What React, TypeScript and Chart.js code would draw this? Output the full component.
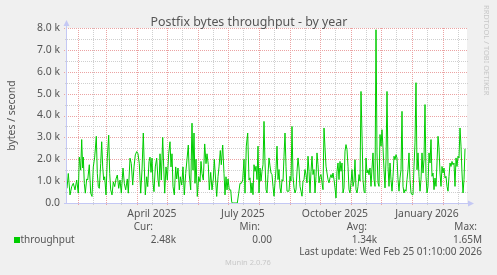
import React, { useEffect, useRef } from "react";
import { Chart, registerables } from "chart.js";

Chart.register(...registerables);

// ---- DATA ----
// Time axis: day offsets from the graph start (400-day window ending Wed Feb 25 01:10:00 2026)
const GRAPH_START_UTC = Date.UTC(2025, 0, 21, 1, 10);
const GRAPH_DAYS = 400;

// Throughput (k bytes / second), first half-year readings (irregular day offsets)
const daysPart1 = [0,1.3,3,4.7,6.3,8,9.7,11.3,12.3,13.7,14.7,15.7,16.3,17.3,18.3,19.7,20.7,22.3,23.7,25,26.3,27.7,29.3,30.3,31.3,32.3,33.7,34.7,35.7,36.7,37.7,39,40.3,41.7,42.7,43.7,45,46.3,47.7,49,50.3,51.7,53,54.3,56,57.3,58.7,60.3,61.3,63,64.3,65.7,67,68.3,69.7,71,72.3,73.7,75,76.3,77.3,78.3,79.7,80.7,82,83,84,85,86,87,88.3,89.7,91,92,93,94.3,95.7,96.7,97.7,99,100.3,101.7,103,104,105,106,107.3,108.7,109.7,111,112.3,113.3,114.7,116,117.3,118.7,120,121.3,122.3,123.7,125,126,127,128,129,130.3,131.7,133,134,135,136.3,137.7,139,140,141.3,142.3,143.7,145,146.3,147.3,148.3,149.7,151,152,153.3,154.3,155.7,157,158,159,160,161,162.3,163.7,164.7,165.3,170.3,171.7,173,174.3,175.7,177,178,179.3,180.7,182];
const valuesPart1 = [0.67,1.35,0.37,0.75,0.9,0.6,1.05,0.45,2.1,1.5,2.9,1.6,2.1,0.9,0.45,1.1,1.05,1.75,0.45,0.3,1.65,2.1,3.05,1.35,0.75,0.67,1.8,2.8,1.65,1.05,1.2,0.37,2.05,3.1,1.35,0.6,0.37,0.97,0.75,1.1,1.28,0.67,1.05,0.45,1.6,0.9,0.6,1.1,0.45,2.05,1.8,0.82,1.65,2.2,2.35,2.25,1.8,0.45,1.5,3.2,1.65,0.37,1.2,0.75,1.9,2.1,1.4,2.05,0.9,0.52,1.65,2.05,1.05,0.75,2.25,1.05,3.0,1.65,0.45,1.65,1.05,2.25,2.8,1.65,2.25,0.75,0.37,1.65,1.1,1.6,0.6,1.2,0.82,1.65,0.37,1.35,2.0,2.65,1.28,0.6,3.65,1.5,3.2,0.9,2.0,0.3,1.2,0.97,1.9,1.35,1.05,2.7,1.8,2.25,1.75,0.6,1.4,0.6,1.1,2.0,1.28,0.3,1.2,1.65,2.4,1.75,2.65,1.35,0.37,1.2,0.6,1.1,0.6,0.6,0.05,0,0,0.45,0.9,0.9,1.05,2.0,0.45,2.6,3.2,1.05];

// Daily readings from day 183 on
const part2StartDay = 183;
const valuesPart2 = [1.15,0.46,0.92,0.38,1.75,1.45,1.68,1.07,2.6,0.46,1.6,1.0,1.45,1.75,3.73,1.83,0.61,0.46,1.3,2.06,1.7,1.37,1.3,0.76,0.31,0.92,1.53,2.6,1.07,1.53,0.69,0.46,1.07,1.0,2.14,3.2,1.68,0.54,0.54,0.54,1.22,1.0,3.5,1.22,0.7,0.46,0.61,1.45,2.06,1.6,0.76,0.54,0.31,1.0,1.07,1.53,1.3,0.92,2.14,1.45,0.46,1.45,2.14,1.3,1.53,0.46,1.22,2.29,1.75,0.92,1.22,1.3,0.92,0.61,3.43,2.52,1.68,1.37,1.07,0.92,1.15,1.3,1.15,1.37,1.07,0.69,0.23,1.45,1.83,1.07,1.9,1.45,1.83,0.46,0.69,2.37,2.67,2.44,1.68,0.61,0.46,0.92,1.53,0.76,1.0,1.98,0.61,0.46,0.76,1.3,1.0,5.1];

const part3StartDay = 296;
const valuesPart3 = [1.07,0.54,0.46,2.06,1.37,1.52,1.29,1.6,0.76,1.6,2.29,1.07,0.76,7.92,2.29,0.92,0.76,3.13,2.6,3.35,2.52,1.52,0.69,1.98,5.1,1.67,0.76,1.83,1.07,0.54,1.22,2.14,1.98,2.21,2.06,1.07,0.54,1.14,1.52,4.19,0.76,0.46,0.61,0.54,1.07,1.52,2.29,1.07,0.46,0.38,0.38,1.67,2.75,5.5,1.52,2.29,1.22,0.54,1.07,2.29,1.37,1.98,4.5,1.22,0.46,0.76,2.29,1.83,2.9,1.22,1.37,0.61,1.14,0.76,1.83,3.05,2.52,1.37,0.76,1.67,1.37,1.6,1.14,1.22,0.76,0.54,1.22,1.83,1.67,1.9,1.75,1.83,0.76,2.06,1.67,2.14,2.06,3.43,2.6,1.37,0.46,1.07,2.48];

// Axis ticks / labels
const yTickValues = [0, 1, 2, 3, 4, 5, 6, 7, 8];
const yTickLabels = ["0.0", "1.0 k", "2.0 k", "3.0 k", "4.0 k", "5.0 k", "6.0 k", "7.0 k", "8.0 k"];
const xLabelMonths = [[2025, 3], [2025, 6], [2025, 9], [2026, 0]];
const xLabelTexts = ["April 2025", "July 2025", "October 2025", "January 2026"];

// Texts
const titleText = "Postfix bytes throughput - by year";
const yAxisTitle = "bytes / second";
const seriesName = "throughput";
const legendHeaders = ["Cur:", "Min:", "Avg:", "Max:"];
const legendValues = ["2.48k", "0.00", "1.34k", "1.65M"];
const lastUpdateText = "Last update: Wed Feb 25 01:10:00 2026";
const watermarkText = "RRDTOOL / TOBI OETIKER";
const footerText = "Munin 2.0.76";

// ---- helpers ----
const dayOf = (y: number, m: number, d: number) => (Date.UTC(y, m, d) - GRAPH_START_UTC) / 86400000;

function buildPoints() {
  const pts: { x: number; y: number }[] = [];
  daysPart1.forEach((d, i) => pts.push({ x: d, y: valuesPart1[i] }));
  valuesPart2.forEach((v, i) => pts.push({ x: part2StartDay + i, y: v }));
  valuesPart3.forEach((v, i) => pts.push({ x: part3StartDay + i, y: v }));
  return pts;
}

function monthStarts() {
  const out: number[] = [];
  const mids: number[] = [];
  for (let k = 0; k < 15; k++) {
    const y = 2025 + Math.floor(k / 12);
    const m = k % 12;
    const s = dayOf(y, m, 1);
    const mid = dayOf(y, m, 16);
    if (s > 0 && s < GRAPH_DAYS) out.push(s);
    if (mid > 0 && mid < GRAPH_DAYS) mids.push(mid);
  }
  return { starts: out, mids };
}

const FONT = '"Noto Sans", "Open Sans", sans-serif';
const TEXT = "#555555";
const AXIS = "#c4c8f4";

const muninPlugin = {
  id: "munin",
  beforeDraw(chart: any) {
    const { ctx, chartArea: a, scales } = chart;
    const x = scales.x, y = scales.y;
    ctx.save();
    ctx.fillStyle = "#f0f0f0";
    ctx.fillRect(0, 0, chart.width, chart.height);
    ctx.fillStyle = "#ffffff";
    ctx.fillRect(a.left, a.top, a.right - a.left, a.bottom - a.top);

    ctx.lineWidth = 1;
    ctx.setLineDash([1, 1]);
    // horizontal minor
    for (let v = 0.5; v < 8; v += 1) {
      const py = Math.round(y.getPixelForValue(v)) + 0.5;
      ctx.strokeStyle = "#cfcfcf";
      ctx.beginPath(); ctx.moveTo(a.left - 2, py); ctx.lineTo(a.right + 1, py); ctx.stroke();
    }
    const { starts, mids } = monthStarts();
    for (const d of mids) {
      const px = Math.round(x.getPixelForValue(d)) + 0.5;
      ctx.strokeStyle = "#cfcfcf";
      ctx.beginPath(); ctx.moveTo(px, a.top); ctx.lineTo(px, a.bottom + 2); ctx.stroke();
    }
    // major
    for (const v of yTickValues) {
      if (v === 0) continue;
      const py = Math.round(y.getPixelForValue(v)) + 0.5;
      ctx.strokeStyle = "#eba3a3";
      ctx.beginPath(); ctx.moveTo(a.left - 3, py); ctx.lineTo(a.right + 1, py); ctx.stroke();
    }
    for (const d of starts) {
      const px = Math.round(x.getPixelForValue(d)) + 0.5;
      ctx.strokeStyle = "#eba3a3";
      ctx.beginPath(); ctx.moveTo(px, a.top); ctx.lineTo(px, a.bottom + 3); ctx.stroke();
    }
    ctx.setLineDash([]);
    // axes
    ctx.strokeStyle = AXIS;
    ctx.fillStyle = AXIS;
    ctx.beginPath(); ctx.moveTo(a.left - 0.5, a.bottom + 1); ctx.lineTo(a.left - 0.5, a.top - 4); ctx.stroke();
    ctx.beginPath(); ctx.moveTo(a.left - 3, a.bottom + 0.5); ctx.lineTo(a.right + 3, a.bottom + 0.5); ctx.stroke();
    ctx.beginPath(); ctx.moveTo(a.left - 3.5, a.top - 2); ctx.lineTo(a.left + 2.5, a.top - 2); ctx.lineTo(a.left - 0.5, a.top - 8); ctx.closePath(); ctx.fill();
    ctx.beginPath(); ctx.moveTo(a.right + 1, a.bottom - 2.5); ctx.lineTo(a.right + 1, a.bottom + 3.5); ctx.lineTo(a.right + 7, a.bottom + 0.5); ctx.closePath(); ctx.fill();
    ctx.restore();
  },
  afterDraw(chart: any) {
    const { ctx, chartArea: a, scales } = chart;
    const x = scales.x, y = scales.y;
    ctx.save();
    ctx.fillStyle = TEXT;
    // title
    ctx.font = `12.4px ${FONT}`;
    ctx.textAlign = "center";
    ctx.textBaseline = "alphabetic";
    ctx.fillText(titleText, 249, 25.5);
    // y tick labels
    ctx.font = `10.4px ${FONT}`;
    ctx.textAlign = "right";
    ctx.textBaseline = "middle";
    yTickValues.forEach((v, i) => ctx.fillText(yTickLabels[i], a.left - 7, y.getPixelForValue(v)));
    // x labels
    ctx.textAlign = "center";
    ctx.textBaseline = "alphabetic";
    xLabelMonths.forEach(([yy, mm], i) => ctx.fillText(xLabelTexts[i], x.getPixelForValue(dayOf(yy, mm, 16)), 217));
    // y axis title
    ctx.save();
    ctx.translate(15, (a.top + a.bottom) / 2);
    ctx.rotate(-Math.PI / 2);
    ctx.textAlign = "center";
    ctx.textBaseline = "alphabetic";
    ctx.fillText(yAxisTitle, 0, 0);
    ctx.restore();
    // legend
    ctx.font = `10px ${FONT}`;
    ctx.textAlign = "right";
    const headerRight = [153, 260, 367, 477];
    const valueRight = [176, 272, 377, 482];
    legendHeaders.forEach((h, i) => ctx.fillText(h, headerRight[i], 230));
    legendValues.forEach((v, i) => ctx.fillText(v, valueRight[i], 242.5));
    ctx.fillText(lastUpdateText, 482, 255);
    ctx.textAlign = "left";
    ctx.fillText(seriesName, 20.5, 242.5);
    ctx.fillStyle = "#00cc00";
    ctx.fillRect(14, 237, 6, 6);
    // watermark
    ctx.fillStyle = "#c8c8c8";
    ctx.font = `7.5px ${FONT}`;
    ctx.save();
    ctx.translate(484, 5);
    ctx.rotate(Math.PI / 2);
    ctx.textAlign = "left";
    ctx.textBaseline = "alphabetic";
    ctx.fillText(watermarkText, 0, 0);
    ctx.restore();
    ctx.textAlign = "center";
    ctx.fillText(footerText, 248, 265);
    ctx.restore();
  },
};

export default function App() {
  const ref = useRef<HTMLCanvasElement>(null);
  useEffect(() => {
    if (!ref.current) return;
    const chart = new Chart(ref.current, {
      type: "line",
      data: {
        datasets: [
          {
            label: seriesName,
            data: buildPoints(),
            borderColor: "#00cc00",
            borderWidth: 1,
            pointRadius: 0,
            tension: 0,
            fill: false,
          },
        ],
      },
      options: {
        animation: false,
        responsive: false,
        devicePixelRatio: 1,
        events: [],
        layout: { padding: { left: 67, top: 28, right: 30, bottom: 72 } },
        plugins: { legend: { display: false }, tooltip: { enabled: false }, title: { display: false } },
        scales: {
          x: { type: "linear", min: 0, max: GRAPH_DAYS, display: false },
          y: { type: "linear", min: 0, max: 8, display: false },
        },
      },
      plugins: [muninPlugin],
    });
    return () => chart.destroy();
  }, []);
  return (
    <div style={{ position: "absolute", left: 0, top: 0, width: 497, height: 275 }}>
      <canvas ref={ref} width={497} height={275} style={{ display: "block" }} />
    </div>
  );
}
